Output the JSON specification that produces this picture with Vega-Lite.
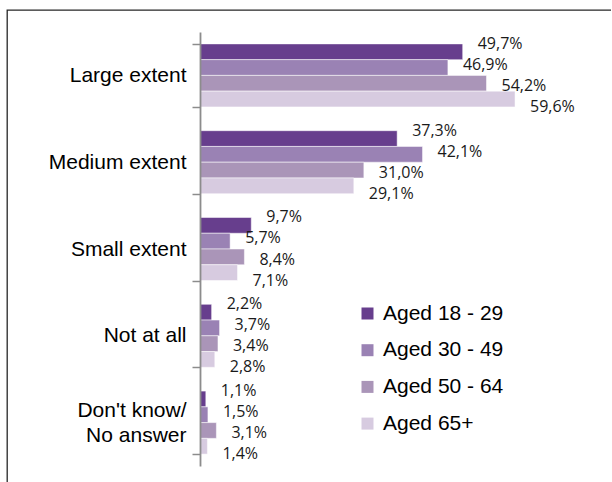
{
  "$schema": "https://vega.github.io/schema/vega-lite/v6.json",
  "autosize": {"type": "none"},
  "padding": {"left": 7, "top": 10, "right": 0, "bottom": 0},
  "width": 604,
  "height": 472,
  "background": "white",
  "config": {
    "locale": {"number": {"decimal": ",", "thousands": ".", "grouping": [3], "currency": ["", " €"]}},
    "view": {"stroke": "#262626", "strokeWidth": 1.3, "strokeDash": [604, 1076, 472, 0]},
    "font": "Liberation Sans"
  },
  "data": {
    "values": [
      {"category": "Large extent", "group": "Aged 18 - 29", "value": 0.497},
      {"category": "Large extent", "group": "Aged 30 - 49", "value": 0.469},
      {"category": "Large extent", "group": "Aged 50 - 64", "value": 0.542},
      {"category": "Large extent", "group": "Aged 65+", "value": 0.596},
      {"category": "Medium extent", "group": "Aged 18 - 29", "value": 0.373},
      {"category": "Medium extent", "group": "Aged 30 - 49", "value": 0.421},
      {"category": "Medium extent", "group": "Aged 50 - 64", "value": 0.310},
      {"category": "Medium extent", "group": "Aged 65+", "value": 0.291},
      {"category": "Small extent", "group": "Aged 18 - 29", "value": 0.097},
      {"category": "Small extent", "group": "Aged 30 - 49", "value": 0.057},
      {"category": "Small extent", "group": "Aged 50 - 64", "value": 0.084},
      {"category": "Small extent", "group": "Aged 65+", "value": 0.071},
      {"category": "Not at all", "group": "Aged 18 - 29", "value": 0.022},
      {"category": "Not at all", "group": "Aged 30 - 49", "value": 0.037},
      {"category": "Not at all", "group": "Aged 50 - 64", "value": 0.034},
      {"category": "Not at all", "group": "Aged 65+", "value": 0.028},
      {"category": "Don't know/ No answer", "group": "Aged 18 - 29", "value": 0.011},
      {"category": "Don't know/ No answer", "group": "Aged 30 - 49", "value": 0.015},
      {"category": "Don't know/ No answer", "group": "Aged 50 - 64", "value": 0.031},
      {"category": "Don't know/ No answer", "group": "Aged 65+", "value": 0.014}
    ]
  },
  "encoding": {
    "y": {
      "field": "category",
      "type": "nominal",
      "sort": ["Large extent", "Medium extent", "Small extent", "Not at all", "Don't know/ No answer"],
      "scale": {"range": [22, 456], "paddingInner": 0.274, "paddingOuter": 0.137},
      "axis": {
        "title": null,
        "orient": "left",
        "offset": -193,
        "tickBand": "extent",
        "tickSize": 8,
        "tickColor": "#8c8c8c",
        "tickWidth": 1.5,
        "domainColor": "#8c8c8c",
        "domainWidth": 1.8,
        "labelFont": "Liberation Sans",
        "labelFontSize": 21,
        "labelColor": "#000000",
        "labelPadding": 6,
        "labelLineHeight": 25,
        "labelLimit": 0,
        "labelOffset": {"condition": {"test": "datum.label == \"Don't know/ No answer\"", "value": -12}, "value": 0},
        "grid": false,
        "zindex": 1,
        "labelExpr": "datum.label == \"Don't know/ No answer\" ? [\"Don't know/\", \"No answer\"] : datum.label"
      }
    },
    "x": {
      "field": "value",
      "type": "quantitative",
      "scale": {"domain": [0, 0.7], "range": [193, 563]},
      "axis": null
    }
  },
  "layer": [
    {
      "mark": {"type": "bar", "stroke": "#ffffff", "strokeWidth": 0.5},
      "encoding": {
        "yOffset": {"field": "group", "sort": ["Aged 18 - 29", "Aged 30 - 49", "Aged 50 - 64", "Aged 65+"]},
        "color": {
          "field": "group",
          "type": "nominal",
          "sort": ["Aged 18 - 29", "Aged 30 - 49", "Aged 50 - 64", "Aged 65+"],
          "scale": {"domain": ["Aged 18 - 29", "Aged 30 - 49", "Aged 50 - 64", "Aged 65+"], "range": ["#673e8d", "#9a82b4", "#aa95b8", "#d7cbe0"]},
          "legend": {
            "orient": "none",
            "legendX": 350,
            "legendY": 293,
            "title": null,
            "symbolType": "square",
            "symbolSize": 144,
            "symbolStrokeWidth": 0,
            "labelFont": "Liberation Sans",
            "labelFontSize": 21,
            "labelColor": "#000000",
            "labelOffset": 5,
            "rowPadding": 14.7,
            "padding": 0
          }
        }
      }
    },
    {
      "mark": {"type": "text", "align": "left", "baseline": "middle", "dx": 15, "font": "Open Sans", "fontSize": 16, "color": "#1a1a1a"},
      "encoding": {
        "yOffset": {"field": "group", "sort": ["Aged 18 - 29", "Aged 30 - 49", "Aged 50 - 64", "Aged 65+"], "scale": {"paddingOuter": -0.39}},
        "text": {"field": "value", "type": "quantitative", "format": ".1%"}
      }
    }
  ],
  "resolve": {"scale": {"yOffset": "independent"}}
}
